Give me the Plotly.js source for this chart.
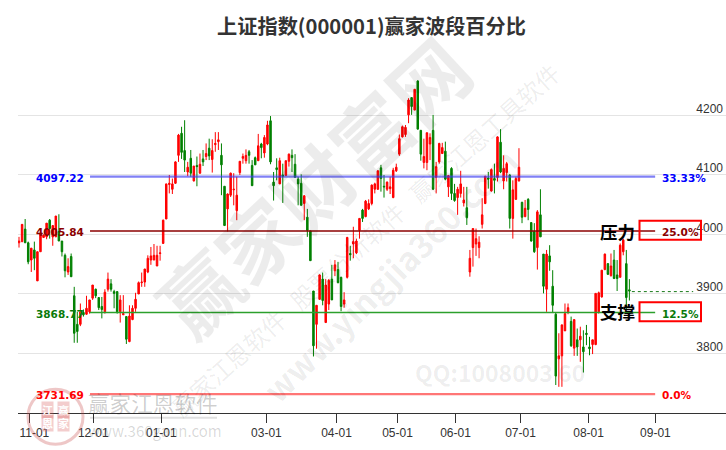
<!DOCTYPE html>
<html><head><meta charset="utf-8">
<script src="https://cdn.plot.ly/plotly-3.0.1.min.js"></script>
<style>html,body{margin:0;padding:0;background:#fff}#c{width:726px;height:450px}</style></head>
<body><div id="c"></div>
<script>
const opens=[3986,3988,4009,3986,3957,3974,3922,3971,3995,3996,4024,3996,3996,4005,3989,3965,3937,3963,3897,3849,3849,3869,3866,3870,3893,3908,3894,3879,3870,3908,3917,3904,3904,3870,3865,3862,3820,3857,3876,3900,3919,3920,3937,3957,3957,3947,3968,3985,4026,4084,4076,4086,4133,4170,4141,4105,4128,4090,4116,4103,4127,4131,4145,4126,4151,4156,4133,4081,4043,4066,4075,4040,4104,4128,4124,4139,4116,4129,4124,4152,4137,4152,4191,4088,4112,4085,4100,4099,4123,4133,4118,4093,4086,4052,4029,4006,3905,3849,3891,3925,3852,3883,3925,3939,3941,3928,3883,3928,3968,3984,3969,4007,4041,4030,4043,4052,4076,4076,4112,4081,4076,4077,4062,4107,4135,4164,4168,4201,4230,4209,4258,4175,4121,4121,4152,4175,4096,4122,4136,4140,4080,4111,4069,4062,4069,4053,4045,3937,3978,3984,3978,4017,4052,4095,4073,4094,4096,4155,4090,4104,4100,4027,4059,4090,4054,4030,4059,4020,4005,3978,4033,3967,3908,3964,3913,3866,3791,3796,3838,3869,3854,3809,3823,3823,3811,3834,3811,3815,3815,3870,3895,3941,3951,3931,3957,3932,3928,3971,3951,3907];
const highs=[3996,4017,4026,3988,3977,3988,3971,4002,4000,4019,4026,4015,4031,4034,3989,3968,3960,3968,3912,3870,3884,3874,3897,3890,3915,3909,3894,3895,3908,3936,3925,3907,3904,3898,3898,3863,3881,3881,3902,3921,3936,3942,3965,3979,3984,3981,3981,4025,4085,4100,4094,4123,4169,4181,4192,4122,4142,4115,4131,4136,4142,4153,4161,4160,4172,4172,4153,4081,4069,4104,4103,4097,4123,4136,4143,4142,4125,4131,4169,4154,4167,4191,4199,4105,4128,4129,4119,4124,4136,4143,4135,4097,4101,4066,4043,4006,3905,3881,3933,3936,3925,3925,3949,3957,3954,3929,3903,3996,3981,4013,3993,4027,4043,4058,4059,4084,4087,4108,4117,4100,4089,4097,4112,4119,4168,4183,4184,4229,4230,4244,4259,4175,4161,4171,4170,4201,4122,4154,4154,4156,4100,4113,4085,4080,4107,4080,4080,3974,4010,4010,3997,4061,4098,4105,4111,4119,4165,4177,4133,4122,4101,4091,4097,4145,4055,4058,4061,4020,4019,4041,4076,3967,3974,3982,3940,3869,3834,3849,3884,3884,3862,3857,3842,3845,3839,3848,3828,3823,3901,3904,3940,3968,3952,3968,3974,3957,3985,3993,3974,3925];
const lows=[3978,3987,3986,3950,3937,3940,3922,3971,3994,3992,3993,3981,3996,3989,3963,3928,3932,3929,3818,3818,3846,3862,3865,3867,3890,3893,3873,3859,3867,3904,3904,3876,3867,3852,3865,3816,3819,3856,3870,3900,3912,3912,3935,3949,3957,3947,3956,3984,4026,4069,4068,4085,4122,4127,4105,4098,4097,4089,4081,4102,4115,4125,4125,4104,4139,4142,4066,4015,4005,4063,4049,4024,4100,4119,4119,4119,4082,4117,4124,4128,4129,4150,4118,4057,4091,4085,4053,4099,4114,4105,4096,4049,4049,4024,3996,3956,3795,3808,3890,3881,3852,3873,3890,3930,3918,3871,3877,3926,3956,3960,3967,3993,4021,4029,4041,4049,4069,4075,4072,4062,4073,4068,4061,4105,4132,4163,4164,4187,4201,4209,4177,4124,4111,4108,4125,4075,4069,4119,4136,4091,4063,4058,4055,4033,4062,4047,4016,3929,3946,3964,3960,4010,4051,4077,4072,4069,4089,4103,4076,4089,4010,3993,4058,4089,4019,4029,4024,3988,3969,3941,3996,3901,3870,3939,3869,3747,3744,3744,3838,3866,3811,3796,3796,3786,3768,3814,3797,3799,3814,3867,3894,3940,3932,3929,3925,3905,3928,3965,3873,3889];
const closes=[3989,4017,3986,3954,3977,3960,3971,4002,3999,4019,4010,4015,4031,3989,3971,3939,3946,3929,3834,3837,3870,3865,3876,3890,3915,3897,3877,3874,3903,3925,3908,3901,3870,3890,3867,3824,3863,3876,3891,3919,3920,3942,3960,3964,3965,3965,3969,4024,4085,4086,4085,4122,4167,4138,4125,4113,4103,4115,4114,4118,4122,4136,4132,4141,4153,4159,4117,4015,4068,4103,4076,4066,4123,4131,4133,4133,4082,4117,4149,4146,4163,4184,4122,4082,4109,4124,4098,4124,4135,4129,4096,4085,4049,4065,4007,3956,3813,3881,3932,3889,3915,3923,3890,3949,3919,3879,3890,3995,3966,3988,3989,4027,4027,4056,4052,4083,4085,4107,4094,4080,4088,4080,4108,4113,4161,4181,4180,4226,4215,4244,4177,4135,4131,4171,4163,4076,4114,4153,4146,4093,4099,4069,4057,4076,4085,4058,4028,3960,4010,3993,3987,4033,4098,4093,4109,4091,4164,4105,4111,4119,4027,4075,4094,4113,4029,4044,4042,3989,3971,4038,3996,3913,3967,3954,3881,3762,3796,3848,3867,3877,3813,3857,3811,3829,3803,3832,3808,3823,3901,3902,3940,3967,3933,3947,3926,3926,3982,3991,3894,3905];
const tickPositions=[3.37,24.2,46.4,80.65,103.5,123.4,142.3,163.5,185.7,207.5];
const tickLabels=['\u00A0\u00A0\u00A011-01','12-01','01-01','03-01','04-01','05-01','06-01','07-01','08-01','09-01'];
const levelValues=[4097.22,4005.84,3868.77,3731.69];
const levelLabels=['4097.22','4005.84','3868.77','3731.69'];
const percentLabels=['33.33%','25.0%','12.5%','0.0%'];
const levelColors=['rgba(60,60,240,0.65)','#8b0000','#2ca02c','rgba(255,60,60,0.7)'];
const levelWidths=[2.2,1.5,1.5,2.2];
const textColors=['#0000ff','#8b0000','#0a7a0a','#ff0000'];
const lastPrice=3904;
const xs=opens.map((_,i)=>i);
const levelSpan=[23.15,207.4];
const lastSpan=[199.8,219.8];

const traces=[{type:'candlestick',x:xs,open:opens,high:highs,low:lows,close:closes,
  increasing:{line:{color:'#ff0000',width:1},fillcolor:'#ff0000'},
  decreasing:{line:{color:'#008000',width:1},fillcolor:'#008000'},
  whiskerwidth:0,showlegend:false,hoverinfo:'skip'}];
levelValues.forEach((v,i)=>traces.push({type:'scatter',mode:'lines',x:levelSpan,y:[v,v],
  line:{color:levelColors[i],width:levelWidths[i]},showlegend:false,hoverinfo:'skip'}));
traces.push({type:'scatter',mode:'lines',x:lastSpan,y:[lastPrice,lastPrice],
  line:{color:'#1a7a1a',width:1,dash:'dot'},showlegend:false,hoverinfo:'skip'});

const px=p=>(p-18)/708, py=p=>(413.3-p)/363.3;
const wm=(text,x,y,size,angle,color,weight)=>({xref:'paper',yref:'paper',x:px(x),y:py(y),text:text,showarrow:false,
  textangle:angle,xanchor:'center',yanchor:'middle',
  font:{family:'"Noto Sans CJK SC","DejaVu Sans",sans-serif',size:size,color:color,weight:weight||400}});
const annotations=[
  wm('赢家财富网',312,185,78,-43,'rgba(0,0,0,0.075)',700),
  wm('赢家江恩软件   股票分析软件   赢家江恩工具软件',365,240,24,-42,'rgba(0,0,0,0.08)',400),
  wm('www.yingjia360.com',389,275,33,-45,'rgba(0,0,0,0.08)',700),
  wm('QQ:1008003 60',500,372,23,0,'rgba(0,0,0,0.075)',700),
  wm('赢家江恩软件',153,403,21.6,0,'rgba(0,0,0,0.2)',400),
  wm('www.360gann.com',155,431,15,0,'rgba(0,0,0,0.16)',400)
];
[['江',47,410],['赢',63,410],['恩',47,423],['家',63,423]].forEach(a=>{
  annotations.push({xref:'paper',yref:'paper',x:px(a[1]),y:py(a[2]),text:a[0],showarrow:false,xanchor:'center',yanchor:'middle',
    borderpad:0,bgcolor:'rgba(215,90,90,0.3)',font:{family:'"Noto Sans CJK SC",sans-serif',size:11,color:'#fff',weight:700}});
});
const lblFont=c=>({family:'"DejaVu Sans",sans-serif',size:10.5,color:c,weight:700});
levelValues.forEach((v,i)=>{
  annotations.push({xref:'paper',yref:'y',x:px(85.5),y:v,yshift:-1,xanchor:'right',yanchor:'middle',showarrow:false,text:levelLabels[i],font:lblFont(textColors[i])});
  annotations.push({xref:'paper',yref:'y',x:px(659.5),y:v,yshift:-1,xanchor:'left',yanchor:'middle',showarrow:false,text:percentLabels[i],font:lblFont(textColors[i])});
});
const cjk={family:'"Noto Sans CJK SC",sans-serif',size:17.5,color:'#000',weight:700};
annotations.push({xref:'paper',yref:'paper',x:px(617),y:py(231.5),text:'压力',showarrow:false,font:cjk,xanchor:'center',yanchor:'middle'});
annotations.push({xref:'paper',yref:'paper',x:px(617),y:py(311.5),text:'支撑',showarrow:false,font:cjk,xanchor:'center',yanchor:'middle'});

const box=(y0,y1)=>({type:'rect',xref:'paper',yref:'paper',x0:px(639.5),x1:px(701),y0:py(y0),y1:py(y1),line:{color:'#ff0000',width:2},fillcolor:'rgba(0,0,0,0)'});
const shapes=[box(221,240),box(302.5,321.5),
 {type:'circle',xref:'paper',yref:'paper',x0:px(28),x1:px(83),y0:py(444.5),y1:py(389.5),line:{color:'rgba(200,70,70,0.3)',width:3},fillcolor:'rgba(0,0,0,0)'},
 {type:'line',xref:'paper',yref:'paper',x0:px(90),x1:px(217),y0:py(418),y1:py(418),line:{color:'rgba(0,0,0,0.12)',width:2}}];

Plotly.newPlot('c',traces,{
  width:726,height:450,paper_bgcolor:'#fff',plot_bgcolor:'#fff',
  margin:{l:18,r:0,t:50,b:36.7,pad:0},
  title:{text:'上证指数(000001)赢家波段百分比',x:0.5117,xanchor:'center',y:1-27/450,yanchor:'middle',
    font:{family:'"Noto Sans CJK SC",sans-serif',size:20.2,color:'#333',weight:700}},
  xaxis:{type:'linear',range:[-0.33,230.5],tickmode:'array',tickvals:tickPositions,ticktext:tickLabels,
    showgrid:false,zeroline:false,showline:true,linecolor:'#333',linewidth:1,ticks:'outside',ticklen:9,tickcolor:'#333',
    tickfont:{family:'"Liberation Sans",Arial,sans-serif',size:12,color:'#333'},rangeslider:{visible:false},fixedrange:true},
  yaxis:{range:[3700,4310],side:'right',tickmode:'array',tickvals:[3700,3800,3900,4000,4100,4200],
    ticks:'',ticklabelposition:'inside',ticklabelshift:-7,showgrid:true,gridcolor:'#e4e4e4',gridwidth:1,zeroline:false,showline:false,
    tickfont:{family:'"Liberation Sans",Arial,sans-serif',size:12,color:'#333'},fixedrange:true},
  annotations:annotations,shapes:shapes,showlegend:false
},{displayModeBar:false,staticPlot:true});
</script></body></html>
